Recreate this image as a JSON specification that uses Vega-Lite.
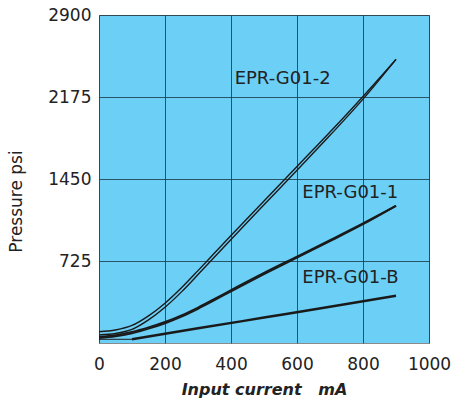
{
  "$schema": "https://vega.github.io/schema/vega-lite/v6.json",
  "width": 330,
  "height": 328,
  "autosize": {"type": "none"},
  "padding": {"left": 99, "top": 15, "right": 31, "bottom": 59},
  "background": "#ffffff",
  "config": {
    "view": {"fill": "#6ccff6", "stroke": "#8a8a8a", "strokeWidth": 1},
    "font": "DejaVu Sans"
  },
  "datasets": {
    "curves": [
      {"series": "EPR-G01-2", "branch": "upper", "x": 0, "y": 100},
      {"series": "EPR-G01-2", "branch": "upper", "x": 50, "y": 115},
      {"series": "EPR-G01-2", "branch": "upper", "x": 100, "y": 155},
      {"series": "EPR-G01-2", "branch": "upper", "x": 150, "y": 240},
      {"series": "EPR-G01-2", "branch": "upper", "x": 200, "y": 352},
      {"series": "EPR-G01-2", "branch": "upper", "x": 250, "y": 488},
      {"series": "EPR-G01-2", "branch": "upper", "x": 300, "y": 640},
      {"series": "EPR-G01-2", "branch": "upper", "x": 350, "y": 795},
      {"series": "EPR-G01-2", "branch": "upper", "x": 400, "y": 950},
      {"series": "EPR-G01-2", "branch": "upper", "x": 500, "y": 1255},
      {"series": "EPR-G01-2", "branch": "upper", "x": 600, "y": 1560},
      {"series": "EPR-G01-2", "branch": "upper", "x": 700, "y": 1865},
      {"series": "EPR-G01-2", "branch": "upper", "x": 800, "y": 2180},
      {"series": "EPR-G01-2", "branch": "upper", "x": 900, "y": 2508},
      {"series": "EPR-G01-2", "branch": "lower", "x": 0, "y": 72},
      {"series": "EPR-G01-2", "branch": "lower", "x": 50, "y": 84},
      {"series": "EPR-G01-2", "branch": "lower", "x": 100, "y": 120},
      {"series": "EPR-G01-2", "branch": "lower", "x": 150, "y": 204},
      {"series": "EPR-G01-2", "branch": "lower", "x": 200, "y": 316},
      {"series": "EPR-G01-2", "branch": "lower", "x": 250, "y": 452},
      {"series": "EPR-G01-2", "branch": "lower", "x": 300, "y": 605},
      {"series": "EPR-G01-2", "branch": "lower", "x": 350, "y": 761},
      {"series": "EPR-G01-2", "branch": "lower", "x": 400, "y": 916},
      {"series": "EPR-G01-2", "branch": "lower", "x": 500, "y": 1222},
      {"series": "EPR-G01-2", "branch": "lower", "x": 600, "y": 1528},
      {"series": "EPR-G01-2", "branch": "lower", "x": 700, "y": 1836},
      {"series": "EPR-G01-2", "branch": "lower", "x": 800, "y": 2156},
      {"series": "EPR-G01-2", "branch": "lower", "x": 900, "y": 2508},
      {"series": "EPR-G01-1", "branch": "upper", "x": 0, "y": 56},
      {"series": "EPR-G01-1", "branch": "upper", "x": 50, "y": 70},
      {"series": "EPR-G01-1", "branch": "upper", "x": 100, "y": 98},
      {"series": "EPR-G01-1", "branch": "upper", "x": 150, "y": 138},
      {"series": "EPR-G01-1", "branch": "upper", "x": 200, "y": 186},
      {"series": "EPR-G01-1", "branch": "upper", "x": 250, "y": 245},
      {"series": "EPR-G01-1", "branch": "upper", "x": 300, "y": 314},
      {"series": "EPR-G01-1", "branch": "upper", "x": 350, "y": 390},
      {"series": "EPR-G01-1", "branch": "upper", "x": 400, "y": 468},
      {"series": "EPR-G01-1", "branch": "upper", "x": 500, "y": 620},
      {"series": "EPR-G01-1", "branch": "upper", "x": 600, "y": 765},
      {"series": "EPR-G01-1", "branch": "upper", "x": 700, "y": 910},
      {"series": "EPR-G01-1", "branch": "upper", "x": 800, "y": 1058},
      {"series": "EPR-G01-1", "branch": "upper", "x": 900, "y": 1213},
      {"series": "EPR-G01-1", "branch": "lower", "x": 0, "y": 44},
      {"series": "EPR-G01-1", "branch": "lower", "x": 50, "y": 58},
      {"series": "EPR-G01-1", "branch": "lower", "x": 100, "y": 86},
      {"series": "EPR-G01-1", "branch": "lower", "x": 150, "y": 126},
      {"series": "EPR-G01-1", "branch": "lower", "x": 200, "y": 174},
      {"series": "EPR-G01-1", "branch": "lower", "x": 250, "y": 233},
      {"series": "EPR-G01-1", "branch": "lower", "x": 300, "y": 302},
      {"series": "EPR-G01-1", "branch": "lower", "x": 350, "y": 378},
      {"series": "EPR-G01-1", "branch": "lower", "x": 400, "y": 456},
      {"series": "EPR-G01-1", "branch": "lower", "x": 500, "y": 608},
      {"series": "EPR-G01-1", "branch": "lower", "x": 600, "y": 754},
      {"series": "EPR-G01-1", "branch": "lower", "x": 700, "y": 900},
      {"series": "EPR-G01-1", "branch": "lower", "x": 800, "y": 1050},
      {"series": "EPR-G01-1", "branch": "lower", "x": 900, "y": 1213},
      {"series": "EPR-G01-B", "branch": "main", "x": 100, "y": 33},
      {"series": "EPR-G01-B", "branch": "main", "x": 300, "y": 130},
      {"series": "EPR-G01-B", "branch": "main", "x": 500, "y": 225},
      {"series": "EPR-G01-B", "branch": "main", "x": 700, "y": 320},
      {"series": "EPR-G01-B", "branch": "main", "x": 900, "y": 418},
      {"series": "EPR-G01-B", "branch": "lead", "x": 0, "y": 33},
      {"series": "EPR-G01-B", "branch": "lead", "x": 100, "y": 33}
    ],
    "labels": [
      {"series": "EPR-G01-2", "x": 411, "y": 2334},
      {"series": "EPR-G01-1", "x": 616, "y": 1326},
      {"series": "EPR-G01-B", "x": 616, "y": 575}
    ]
  },
  "layer": [
    {
      "data": {"name": "curves"},
      "transform": [{"filter": "datum.series === 'EPR-G01-2'"}],
      "mark": {"type": "line", "interpolate": "monotone", "color": "#1a1a1a", "strokeWidth": 1.4},
      "encoding": {
        "x": {"field": "x", "type": "quantitative", "scale": {"domain": [0, 1000], "nice": false},
          "axis": {"values": [0, 200, 400, 600, 800, 1000], "format": "d", "grid": true, "gridColor": "#1e3d4d", "gridOpacity": 0.85, "gridWidth": 1,
            "ticks": false, "domain": false, "labelFontSize": 17, "labelColor": "#222222", "labelPadding": 13, "labelFont": "DejaVu Sans",
            "title": "Input current\u00a0\u00a0\u00a0mA", "titleFontSize": 16, "titleFontStyle": "italic", "titleFontWeight": "bold", "titleColor": "#222222", "titlePadding": 9, "labelFlush": false}},
        "y": {"field": "y", "type": "quantitative", "scale": {"domain": [0, 2900], "nice": false},
          "axis": {"values": [725, 1450, 2175, 2900], "format": "d", "grid": true, "gridColor": "#1e3d4d", "gridOpacity": 0.85, "gridWidth": 1,
            "ticks": false, "domain": false, "labelFontSize": 17, "labelColor": "#222222", "labelPadding": 8, "labelFont": "DejaVu Sans",
            "title": "Pressure psi", "titleFontSize": 17, "titleFontWeight": "normal", "titleColor": "#222222", "titleX": -83, "titleY": 186, "titleAngle": -90, "titleBaseline": "middle", "labelFlush": false}},
        "detail": [{"field": "series"}, {"field": "branch"}]
      }
    },
    {
      "data": {"name": "curves"},
      "transform": [{"filter": "datum.series === 'EPR-G01-1'"}],
      "mark": {"type": "line", "interpolate": "monotone", "color": "#1a1a1a", "strokeWidth": 1.8},
      "encoding": {
        "x": {"field": "x", "type": "quantitative"},
        "y": {"field": "y", "type": "quantitative"},
        "detail": [{"field": "series"}, {"field": "branch"}]
      }
    },
    {
      "data": {"name": "curves"},
      "transform": [{"filter": "datum.series === 'EPR-G01-B' && datum.branch === 'main'"}],
      "mark": {"type": "line", "interpolate": "monotone", "color": "#1a1a1a", "strokeWidth": 2.4},
      "encoding": {
        "x": {"field": "x", "type": "quantitative"},
        "y": {"field": "y", "type": "quantitative"}
      }
    },
    {
      "data": {"name": "curves"},
      "transform": [{"filter": "datum.series === 'EPR-G01-B' && datum.branch === 'lead'"}],
      "mark": {"type": "line", "color": "#1a1a1a", "strokeWidth": 1},
      "encoding": {
        "x": {"field": "x", "type": "quantitative"},
        "y": {"field": "y", "type": "quantitative"}
      }
    },
    {
      "data": {"name": "labels"},
      "mark": {"type": "text", "align": "left", "baseline": "middle", "fontSize": 18, "font": "DejaVu Sans", "color": "#222222"},
      "encoding": {
        "x": {"field": "x", "type": "quantitative"},
        "y": {"field": "y", "type": "quantitative"},
        "text": {"field": "series"}
      }
    }
  ]
}
